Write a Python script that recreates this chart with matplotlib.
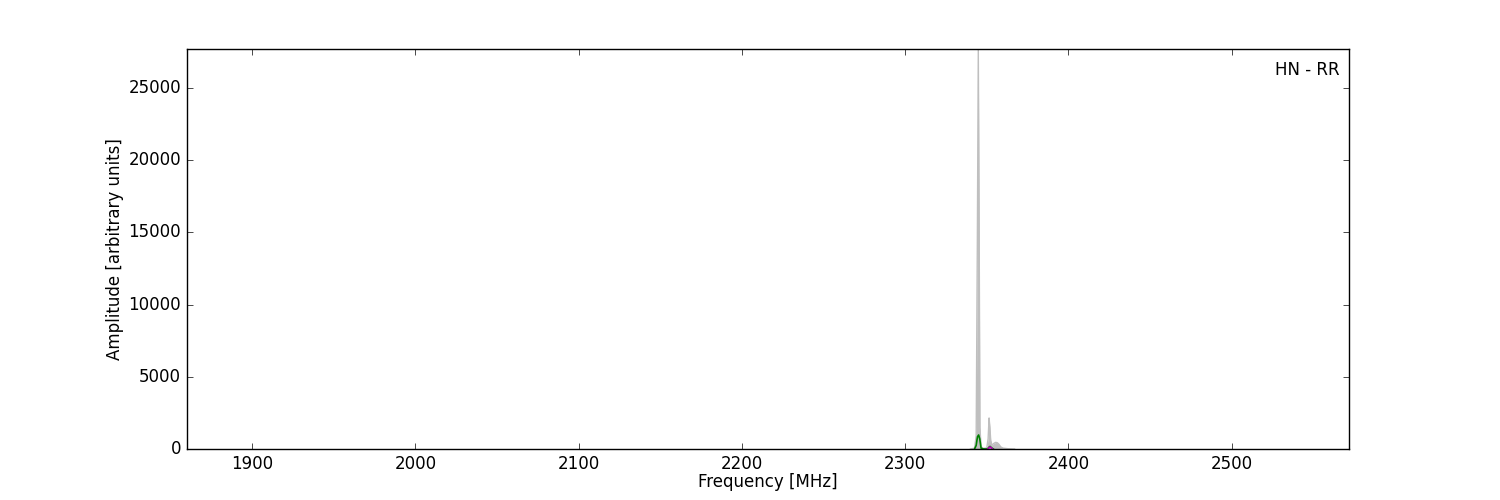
import numpy as np
import matplotlib
matplotlib.use('Agg')
import matplotlib.pyplot as plt

plt.style.use('classic')
plt.rcParams['figure.facecolor'] = 'white'
plt.rcParams['savefig.facecolor'] = 'white'

# Spectre total (gris)
freq_tot = [2340, 2342.5, 2343.5, 2344.2, 2344.8, 2345.3, 2345.8, 2346.5,
            2348, 2350, 2350.8, 2351.4, 2351.9, 2352.4, 2353.2, 2354.2, 2355.5,
            2356.5, 2357.5, 2358.5, 2360, 2363, 2367]
amp_tot = [0, 60, 900, 14000, 27700, 16000, 1500, 150,
           40, 80, 700, 2150, 1500, 600, 250, 380, 460,
           430, 320, 150, 60, 20, 0]

# Composante verte
freq_g = [2342.5, 2343.5, 2344.3, 2345.0, 2345.7, 2346.5, 2348, 2350.5,
          2351.3, 2352, 2352.8, 2354]
amp_g = [0, 250, 850, 970, 700, 60, 0, 0, 120, 180, 90, 0]

# Composante magenta
freq_m = [2350.6, 2351.3, 2352.0, 2352.7, 2353.5]
amp_m = [0, 80, 140, 90, 0]

fig, ax = plt.subplots(figsize=(15, 5), dpi=100)
fig.subplots_adjust(left=0.1245, right=0.8995, bottom=0.102, top=0.902)
ax.fill_between(freq_tot, amp_tot, color='0.75', lw=0)
ax.plot(freq_tot, amp_tot, color='0.75', lw=1.0)
ax.plot(freq_g, amp_g, color='g', lw=1.2)
ax.plot(freq_m, amp_m, color='m', lw=1.2)

ax.set_xlim(1860, 2572)
ax.set_ylim(0, 27700)
ax.set_xlabel('Frequency [MHz]', labelpad=0)
ax.set_ylabel('Amplitude [arbitrary units]', labelpad=3)
ax.text(0.992, 0.97, 'HN - RR', transform=ax.transAxes, ha='right', va='top')

plt.savefig('out.png', dpi=100)
